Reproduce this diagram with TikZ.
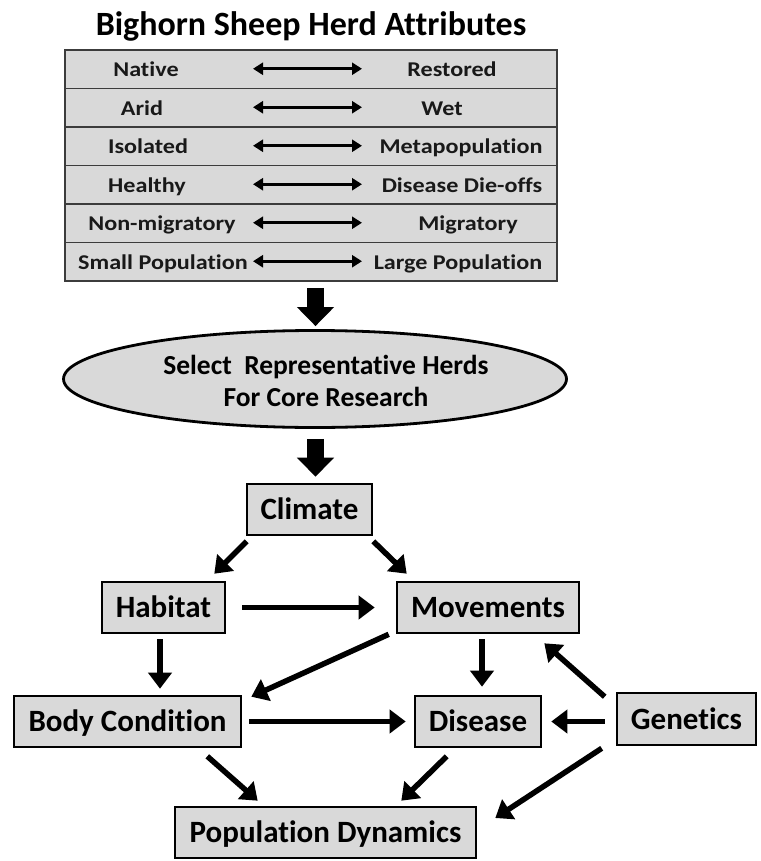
\documentclass[tikz,border=0pt]{standalone}
\usepackage{fontspec}
\setmainfont{Carlito}[Ligatures=NoCommon]
\newfontfamily\tabfont[FakeStretch=1.15,Ligatures=NoCommon]{Carlito}
\usetikzlibrary{arrows.meta,shapes.geometric,calc}
\definecolor{boxgray}{RGB}{217,217,217}
\definecolor{rulegray}{RGB}{60,60,60}
\tikzset{
  flowbox/.style={draw=black, line width=2.6pt, fill=boxgray, inner sep=0pt,
    text height=20pt, text depth=0pt, font=\fontsize{31}{31}\selectfont\bfseries},
  tabrow/.style={draw=rulegray, line width=1.3pt, fill=boxgray, minimum width=492pt,
    minimum height=38.5pt, inner sep=0pt},
  tabtext/.style={inner sep=0pt, text height=13.5pt, text depth=0pt,
    font=\tabfont\fontsize{21}{21}\selectfont\bfseries, text=black!90},
  dblarr/.style={line width=2.7pt, {Triangle[length=10pt,width=12pt]}-{Triangle[length=10pt,width=12pt]}},
  flowarr/.style={line width=5.5pt, -{Triangle[length=16pt,width=23pt]}},
  blockarr/.style={line width=17pt, -{Triangle[length=19pt,width=36pt]}}
}
\begin{document}
\begin{tikzpicture}[x=1pt,y=-1pt]
\useasboundingbox[fill=white] (0,0) rectangle (760,861);

% title
\node[anchor=base, inner sep=0pt, font=\fontsize{34}{34}\selectfont\bfseries] (title) at (311,36) {Bighorn Sheep Herd Attributes};

% table rows
\node[tabrow] (row1) at (311,69.25) {};
\node[tabrow] (row2) at (311,107.75) {};
\node[tabrow] (row3) at (311,146.25) {};
\node[tabrow] (row4) at (311,184.75) {};
\node[tabrow] (row5) at (311,223.25) {};
\node[tabrow] (row6) at (311,261.75) {};
\node[draw=rulegray, line width=1.8pt, minimum width=492pt, minimum height=231pt, inner sep=0pt] (table) at (311,165.5) {};

\node[tabtext] (l1) at (146,70) {Native};
\node[tabtext] (r1) at (452,70) {Restored};
\node[tabtext] (l2) at (142,108.5) {Arid};
\node[tabtext] (r2) at (442,108.5) {Wet};
\node[tabtext] (l3) at (148,147) {Isolated};
\node[tabtext] (r3) at (461,147) {Metapopulation};
\node[tabtext] (l4) at (147,185.5) {Healthy};
\node[tabtext] (r4) at (462,185.5) {Disease Die-offs};
\node[tabtext] (l5) at (162,224) {Non-migratory};
\node[tabtext] (r5) at (468,224) {Migratory};
\node[tabtext] (l6) at (163,262.5) {Small Population};
\node[tabtext] (r6) at (458,262.5) {Large Population};

\foreach \i in {1,...,6}{
  \coordinate (a\i) at ($(row\i.center)+(-58pt,0.5pt)$);
  \coordinate (b\i) at ($(row\i.center)+(51pt,0.5pt)$);
  \draw[dblarr] (a\i) -- (b\i);
}

% ellipse
\node[draw=black, line width=2.8pt, fill=boxgray, ellipse, minimum width=503pt, minimum height=97pt, inner sep=0pt] (herds) at (315,379) {};
\node[inner sep=0pt, align=center, font=\fontsize{27.5}{32}\selectfont\bfseries] (herdstext) at (326,381) {Select\ \ Representative Herds\\For Core Research};

% flow boxes
\node[flowbox, minimum width=125pt, minimum height=51pt] (climate) at (309.5,509.5) {Climate};
\node[flowbox, minimum width=123pt, minimum height=51pt] (habitat) at (163.5,607.5) {Habitat};
\node[flowbox, minimum width=182pt, minimum height=51pt] (movements) at (488,607.5) {Movements};
\node[flowbox, minimum width=227pt, minimum height=51pt] (body) at (127.5,721.5) {Body Condition};
\node[flowbox, minimum width=126pt, minimum height=51pt] (disease) at (478,721.5) {Disease};
\node[flowbox, minimum width=139pt, minimum height=52pt] (genetics) at (686.5,719) {Genetics};
\node[flowbox, minimum width=301pt, minimum height=51pt] (popdyn) at (325.5,832.5) {Population Dynamics};

% block arrows
\draw[blockarr] ($(table.south -| herds.north)+(0.5pt,-6pt)$) -- ($(herds.north)+(0.5pt,3pt)$);
\draw[blockarr] ($(herds.south)+(0.5pt,-10pt)$) -- ($(herds.south |- climate.north)+(0.5pt,6pt)$);

% flow arrows
\draw[flowarr] ($(climate.south west)+(1pt,-5pt)$) -- ($(habitat.north east)+(-12pt,7pt)$);
\draw[flowarr] ($(climate.south east)+(0pt,-5pt)$) -- ($(movements.north west)+(11pt,7pt)$);
\draw[flowarr] ($(habitat.east)+(16pt,0pt)$) -- ($(movements.west)+(-21pt,0pt)$);
\draw[flowarr] ($(habitat.south)+(-3.5pt,-5pt)$) -- ($(habitat.south |- body.north)+(-3.5pt,6pt)$);
\draw[flowarr] ($(movements.south west)+(-7pt,0pt)$) -- ($(body.north east)+(9pt,-2pt)$);
\draw[flowarr] ($(movements.south)+(-6pt,-5pt)$) -- ($(movements.south |- disease.north)+(-6pt,8pt)$);
\draw[flowarr] ($(genetics.north west)+(-11pt,-5pt)$) -- ($(movements.south east)+(-36pt,-9pt)$);
\draw[flowarr] ($(body.east)+(7pt,0pt)$) -- ($(disease.west)+(-8pt,0pt)$);
\draw[flowarr] ($(genetics.west |- disease.east)+(-11pt,0pt)$) -- ($(disease.east)+(9pt,0pt)$);
\draw[flowarr] ($(body.south east)+(-35pt,-8pt)$) -- ($(popdyn.north west)+(84pt,5pt)$);
\draw[flowarr] ($(disease.south west)+(33pt,-8pt)$) -- ($(popdyn.north east)+(-76pt,5pt)$);
\draw[flowarr] ($(genetics.south west)+(-14pt,-2pt)$) -- ($(popdyn.east)+(18pt,14.5pt)$);
\end{tikzpicture}
\end{document}
